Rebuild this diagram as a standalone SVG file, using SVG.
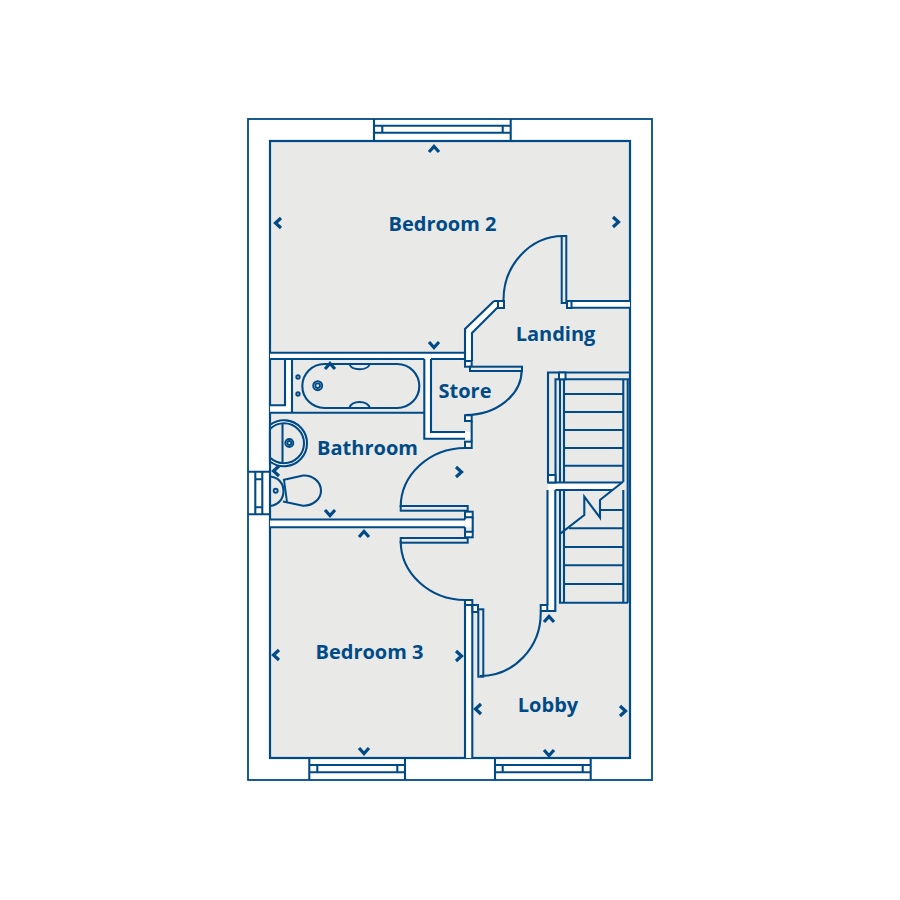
<svg xmlns="http://www.w3.org/2000/svg" width="900" height="900" viewBox="0 0 900 900">
<style>
.l{fill:none;stroke:#004b87;stroke-width:2.1;stroke-linejoin:miter}
.t{fill:none;stroke:#004b87;stroke-width:1.9}
.j{fill:#fff;stroke:#004b87;stroke-width:2}
.g{fill:#e9e9e8;stroke:#004b87;stroke-width:2}
.w{fill:#fff;stroke:none}
.c{fill:none;stroke:#004b87;stroke-width:3.2}
text{font-family:"Open Sans",sans-serif;font-weight:700;font-size:20px;fill:#004b87;text-anchor:middle}
</style>
<defs>
<path id="ch" d="M-5 3L0-2.5L5 3"/>
</defs>
<rect width="900" height="900" fill="#fff"/>
<rect x="248" y="119" width="404" height="661" fill="#fff" stroke="#004b87" stroke-width="1.8"/>
<rect x="270" y="141" width="360" height="617" fill="#e9e9e8" stroke="#004b87" stroke-width="2.2"/>

<g id="walls">
<path class="w" d="M270 352.7H465V329L494 301H498V308H497L472 333V361H465V359H270Z"/>
<path class="w" d="M424.3 359H431V432H471.7V439H424.3Z"/>
<path class="w" d="M285 359H292V412.7H270V405.3H285Z"/>
<rect class="w" x="567" y="301" width="63" height="7"/>
<rect class="w" x="270" y="519.5" width="202" height="7.8"/>
<rect class="w" x="465" y="600" width="7.3" height="158"/>
<path class="w" d="M548 482.5H622.5L612 490H555.3V611H548Z"/>
<path class="l" d="M270 352.7H465V329L494 301"/>
<path class="l" d="M494 301H498M472 361V333L497 308H498"/>
<path class="l" d="M465 352.7V361M270 359H424.3M431 359H465"/>
<path class="l" d="M285 359V405.3H270M292 359V412.7M270 412.7H424.3M424.3 359V438.7H465M431 359V432H465"/>
<path class="l" d="M270 519.5H465M270 527.3H465M465 600V758M472.3 605V758"/>
<path class="l" d="M567 301H630M571 307.7H630"/>
<path class="l" d="M547.5 490V605M555.3 490V611H547.5"/>
<path class="l" d="M555.3 490H612M548 482.5H622"/>
</g>

<g id="jambs">
<rect class="j" x="498" y="301" width="6" height="7"/>
<rect class="j" x="567" y="301" width="4.5" height="7"/>
<rect class="j" x="465" y="361" width="6.7" height="5.7"/>
<rect class="g" x="470" y="366.7" width="52" height="4.3"/>
<rect class="j" x="465" y="415.3" width="6.7" height="5.7"/>
<rect class="j" x="465" y="441.7" width="6.7" height="6.3"/>
<path class="l" d="M471.7 421V441.7"/>
<rect class="j" x="465" y="511.7" width="7.7" height="5.5"/>
<rect class="j" x="465" y="531.8" width="7.7" height="5.5"/>
<path class="l" d="M472.7 517V532M465 517.2V519.5M465 527.3V531.8"/>
<rect class="g" x="400.7" y="506" width="67" height="4.7"/>
<rect class="g" x="400.7" y="538" width="67" height="4.7"/>
<rect class="g" x="561.7" y="236" width="4.6" height="67"/>
<rect class="j" x="465" y="600" width="7.3" height="5"/>
<rect class="j" x="472.5" y="605" width="5.5" height="7"/>
<rect class="g" x="478.3" y="609.3" width="5" height="67.4"/>
<rect class="j" x="540.7" y="605" width="6.6" height="6"/>
</g>

<g id="doors">
<path class="l" d="M503.5 300A60 64 0 0 1 563 236"/>
<path class="l" d="M521.7 370A56 45 0 0 1 465.5 415"/>
<path class="l" d="M400.7 507A65 59 0 0 1 465 448"/>
<path class="l" d="M400.7 541A65 59 0 0 0 465 600"/>
<path class="l" d="M540.7 612A60.7 63 0 0 1 480 676"/>
</g>

<g id="stairs">
<path class="l" d="M548 482.5V372.5H630M555.5 482V379.3H630"/>
<rect class="j" x="559" y="372.5" width="6.5" height="6.8"/>
<rect class="j" x="548" y="475" width="7.5" height="7.5"/>
<path class="l" d="M560 379V482.5M564 379V482.5M560 490V602.7H628M564 490V602.7M623.3 379V482M623.3 490V602.7M627.7 379V602.7"/>
<path class="t" d="M564 394H623M564 412H623M564 430H623M564 448H623M564 465.7H623M600 510H623M569 528.3H623M564 547H623M564 565.3H623M564 584H623"/>
<path class="l" d="M623 481.7L600 500V517.7L584.3 496.7V515L560.7 533.3"/>
</g>

<g id="windows">
<path class="l" d="M374 119V141M510.7 119V141M374 125.7H510.7M374 132.7H510.7M382.3 125.7V132.7M502.7 125.7V132.7"/>
<path class="l" d="M309.3 758V780M405 758V780M309.3 765H405M309.3 772.3H405M317.3 765V772.3M397.3 765V772.3"/>
<path class="l" d="M495 758V780M590.7 758V780M495 765H590.7M495 772.3H590.7M502.7 765V772.3M582.7 765V772.3"/>
<path class="l" d="M248 471.7H270M248 514.2H270M255.3 471.7V514.2M262.3 471.7V514.2M255.3 479.3H262.3M255.3 507.3H262.3"/>
</g>

<g id="fittings">
<rect class="l" x="302.3" y="364" width="117" height="44" rx="22"/>
<path class="t" d="M349.3 364C352 371 367 371 370 364M349.3 408C352 400 367 400 370 408"/>
<circle class="t" cx="298" cy="377" r="1.7" stroke-width="1"/>
<circle class="t" cx="298" cy="394" r="1.7" stroke-width="1"/>
<circle class="t" cx="317.7" cy="385.7" r="4.5" stroke-width="1.2"/>
<circle class="t" cx="317.7" cy="385.7" r="2.3" stroke-width="1.2"/>
<path d="M270 425A23 23 0 1 1 270 461.5Z" fill="#fff" stroke="#004b87" stroke-width="2.1"/>
<path d="M270 429A20 20 0 1 1 270 457.5Z" fill="#e9e9e8" stroke="#004b87" stroke-width="2.1"/>
<path class="l" d="M282.5 423V463"/>
<circle class="t" cx="289.3" cy="443" r="4" stroke-width="1.2"/>
<circle class="t" cx="289.3" cy="443" r="2" stroke-width="1.2"/>
<path class="l" d="M270 476.5C278 477 283.5 483 283.5 491C283.5 499 278 505.5 270 506"/>
<circle class="t" cx="275.7" cy="490.7" r="2" stroke-width="1.2"/>
<path class="l" d="M283 480L303 475.5C313 475 321 482 321 490.7C321 499 313 506 303 505.7L283 501.5"/>
<path class="t" d="M284 480L287 502"/>
</g>

<g id="markers" class="c">
<use href="#ch" transform="translate(434 149)"/>
<use href="#ch" transform="translate(278 223) rotate(-90)"/>
<use href="#ch" transform="translate(616 222) rotate(90)"/>
<use href="#ch" transform="translate(434 345) rotate(180)"/>
<use href="#ch" transform="translate(330 366)"/>
<use href="#ch" transform="translate(276 471) rotate(-90)"/>
<use href="#ch" transform="translate(330 513) rotate(180)"/>
<use href="#ch" transform="translate(364 534)"/>
<use href="#ch" transform="translate(459 472) rotate(90)"/>
<use href="#ch" transform="translate(276 655) rotate(-90)"/>
<use href="#ch" transform="translate(459 656) rotate(90)"/>
<use href="#ch" transform="translate(364 751) rotate(180)"/>
<use href="#ch" transform="translate(549 619)"/>
<use href="#ch" transform="translate(478 709) rotate(-90)"/>
<use href="#ch" transform="translate(623 711) rotate(90)"/>
<use href="#ch" transform="translate(549 753) rotate(180)"/>
</g>

<g id="labels">
<text x="442.5" y="231">Bedroom 2</text>
<text x="555.5" y="341">Landing</text>
<text x="465" y="398">Store</text>
<text x="367.5" y="455">Bathroom</text>
<text x="369.5" y="659">Bedroom 3</text>
<text x="548" y="712">Lobby</text>
</g>
</svg>
